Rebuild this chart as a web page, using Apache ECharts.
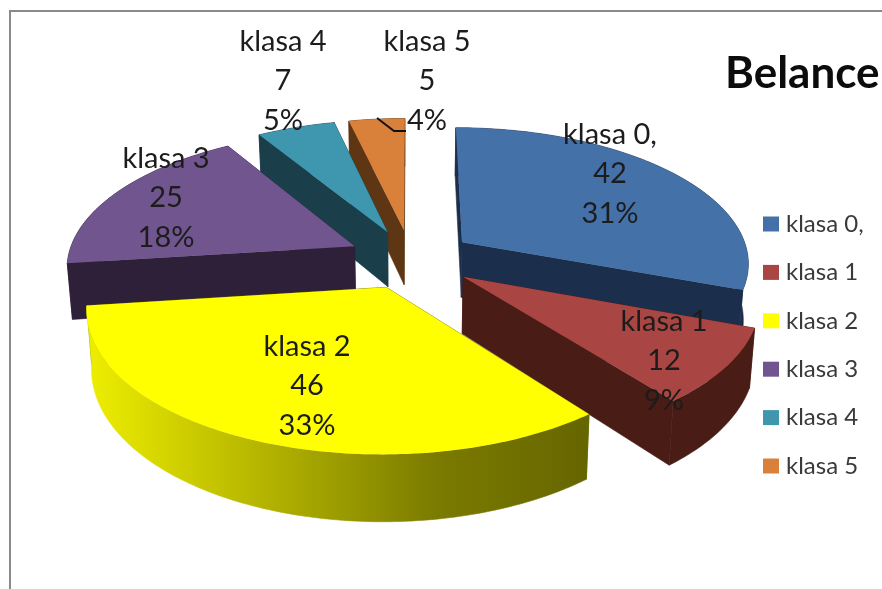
<!DOCTYPE html>
<html>
<head>
<meta charset="utf-8">
<style>html,body{margin:0;padding:0;background:#fff}#chart{width:882px;height:589px}</style>
<script src="https://cdn.jsdelivr.net/npm/echarts@6/dist/echarts.min.js"></script>
</head>
<body>
<div id="chart"></div>
<script>
// Class distribution for the Belance data set
const categories = ['klasa 0,', 'klasa 1', 'klasa 2', 'klasa 3', 'klasa 4', 'klasa 5'];
const values = [42, 12, 46, 25, 7, 5];
const percentLabels = ['31%', '9%', '33%', '18%', '5%', '4%'];

const topColors = ['#4471a8', '#a94643', '#ffff00', '#71558f', '#3f96af', '#d9803a'];
const sideColors = ['#1b2e4c', '#4a1c16', '#6b6b00', '#2e2038', '#1a3e4a', '#5e3614'];
// Back-to-front stacking of the exploded slices
const stacking = [3, 4, 5, 2, 1, 0];
// Label centres
const labelX = [610, 664, 307, 166, 283, 427];
const labelY = [174, 361, 386, 198, 81, 81];

// Projection of the tilted disc
const view = { cx: 411, cy: 259, rx: 287.5, ry: 135, persist: 0.14, explode: 0.22, depth: 56, shrink: 0.985 };
const total = values.reduce((a, b) => a + b, 0);
const startFractions = values.map((_, i) => values.slice(0, i).reduce((a, b) => a + b, 0) / total);

function project(X, Y) {
  const s = 1 / (1 + view.persist * Y);
  return { x: view.cx + view.rx * X * s, y: view.cy - view.ry * Y * s, s };
}
function lower(p) {
  return [view.cx + (p.x - view.cx) * view.shrink, p.y + view.depth * p.s];
}
function upper(p) { return [p.x, p.y]; }

function sliceChildren(index, value) {
  const a0 = startFractions[index] * 2 * Math.PI;
  const a1 = a0 + value / total * 2 * Math.PI;
  const mid = (a0 + a1) / 2;
  const ox = view.explode * Math.sin(mid);
  const oy = view.explode * Math.cos(mid);
  const apex = project(ox, oy);
  const rim = [];
  const steps = Math.max(8, Math.ceil((a1 - a0) * 180 / Math.PI));
  for (let k = 0; k <= steps; k++) {
    const a = a0 + (a1 - a0) * k / steps;
    rim.push(project(ox + Math.sin(a), oy + Math.cos(a)));
  }
  const side = sideColors[index];
  const wallFill = index === 2
    ? { type: 'linear', global: true, x: 87, y: 0, x2: 586, y2: 0,
        colorStops: [{ offset: 0, color: '#eeee00' }, { offset: 0.7, color: '#7b7b00' }, { offset: 1, color: '#666600' }] }
    : side;
  const wall = (pts, fill) => ({
    type: 'polygon',
    shape: { points: pts },
    style: { fill: fill, stroke: fill, lineWidth: 0.6 }
  });
  const face = (p) => [upper(apex), upper(p), lower(p), lower(apex)];
  const outer = rim.map(upper).concat(rim.slice().reverse().map(lower));
  return [
    wall(face(rim[0]), side),
    wall(face(rim[rim.length - 1]), side),
    wall(outer, wallFill),
    {
      type: 'polygon',
      shape: { points: [upper(apex)].concat(rim.map(upper)) },
      style: { fill: topColors[index] }
    }
  ];
}

const sliceSeries = categories.map((name, i) => ({
  type: 'custom',
  name: name,
  coordinateSystem: 'none',
  silent: true,
  animation: false,
  z: 2 + stacking[i],
  itemStyle: { color: topColors[i] },
  data: [[values[i]]],
  renderItem: (params, api) => ({ type: 'group', children: sliceChildren(i, api.value(0)) })
}));

const labelSeries = {
  type: 'custom',
  name: 'etykiety',
  coordinateSystem: 'none',
  silent: true,
  animation: false,
  z: 20,
  data: values.map((v, i) => [v, i]),
  renderItem: (params, api) => {
    const i = api.value(1);
    return {
      type: 'text',
      style: {
        text: categories[i] + '\n' + api.value(0) + '\n' + percentLabels[i],
        x: labelX[i],
        y: labelY[i],
        align: 'center',
        verticalAlign: 'middle',
        fill: '#1c1c1c',
        font: '29px Lato',
        lineHeight: 39.5
      }
    };
  }
};

const chart = echarts.init(document.getElementById('chart'), null, { renderer: 'canvas' });
chart.setOption({
  backgroundColor: '#ffffff',
  animation: false,
  title: {
    text: 'Belance',
    left: 725,
    top: 52,
    padding: 0,
    textStyle: { fontFamily: 'Lato', fontSize: 44, fontWeight: 'bold', color: '#0c0c0c' }
  },
  legend: {
    data: categories.map(name => ({ name: name, icon: 'rect' })),
    orient: 'vertical',
    left: 763,
    top: 212,
    padding: 0,
    itemWidth: 16,
    itemHeight: 15,
    itemGap: 24.4,
    selectedMode: false,
    textStyle: { fontFamily: 'Lato', fontSize: 24, color: '#3a3a3a', lineHeight: 24, padding: [0, 0, 0, 2] }
  },
  graphic: [
    { type: 'polyline', z: 1, shape: { points: [[882, 11], [10, 11], [10, 589]] },
      style: { fill: null, stroke: '#8a8a8a', lineWidth: 2 } },
    { type: 'polyline', z: 30, shape: { points: [[377, 118], [394, 131], [406, 131]] },
      style: { fill: null, stroke: '#111111', lineWidth: 2 } }
  ],
  series: sliceSeries.concat([labelSeries])
});
</script>
</body>
</html>
